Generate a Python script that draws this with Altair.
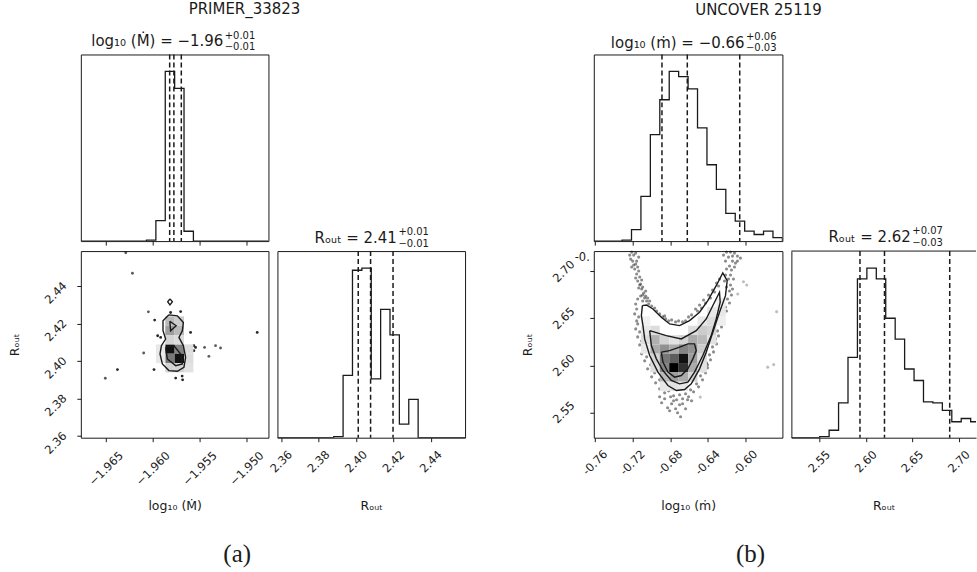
import altair as alt
import pandas as pd

FONT = "DejaVu Sans"
INK = "#1a1a1a"
TXT = "#1a1a1a"

# ---------------- panel (a): PRIMER_33823 ----------------
A_NAME = "PRIMER_33823"
A_MDOT_RANGE = [-1.9677, -1.9477]
A_ROUT_RANGE = [2.3591, 2.4586]
A_ROUT_HIST_RANGE = [2.3579, 2.4582]
A_MDOT_TICKS = [-1.965, -1.960, -1.955, -1.950]
A_ROUT_TICKS = [2.36, 2.38, 2.40, 2.42, 2.44]
A_MDOT_COUNTS = [0, 0, 0, 0, 0, 0, 0, 0.6, 12.1, 100, 90, 5.8, 0, 0, 0, 0, 0, 0, 0, 0]
A_ROUT_COUNTS = [0, 0, 0, 0, 0, 0, 0.6, 36.7, 98.7, 100, 34.7, 75.6, 60.6, 8.0, 22.6, 0, 0, 0, 0, 0]
A_MDOT_QUANTILES = [-1.95823, -1.95778, -1.95699]
A_ROUT_QUANTILES = [2.4011, 2.4077, 2.4197]

A_C0_X = [-1.95831, -1.95741, -1.95677, -1.95688, -1.95724, -1.95677, -1.95653, -1.95671, -1.95741,
          -1.95831, -1.95901, -1.95926, -1.95911, -1.95866, -1.95894, -1.95894, -1.95831]
A_C0_Y = [2.42461, 2.42408, 2.42052, 2.41611, 2.41256, 2.40815, 2.40193, 2.39663, 2.39450,
          2.39487, 2.39843, 2.40374, 2.40815, 2.41171, 2.41611, 2.42143, 2.42461]
A_C1_X = [-1.95821, -1.95754, -1.95813, -1.95821]
A_C1_Y = [2.42116, 2.41877, 2.41611, 2.42116]
A_C2_X = [-1.95866, -1.95777, -1.95706, -1.95688, -1.95759, -1.95848, -1.95866]
A_C2_Y = [2.40725, 2.40815, 2.40374, 2.39843, 2.39753, 2.40109, 2.40725]
A_C3_X = [-1.95820, -1.95794, -1.95820, -1.95844, -1.95820]
A_C3_Y = [2.43311, 2.43152, 2.42992, 2.43152, 2.43311]

A_PTS_X = [-1.96380, -1.95990, -1.94890, -1.95759, -1.95685, -1.95690, -1.95813, -1.95706, -1.95983,
           -1.95951, -1.95919, -1.95600, -1.95565, -1.95547, -1.95565, -1.95624, -1.95653,
           -1.96291, -1.96220, -1.96050, -1.96100, -1.95451, -1.95405, -1.95334, -1.95281, -1.96509]
A_PTS_Y = [2.39540, 2.39540, 2.41521, 2.39089, 2.38993, 2.39195, 2.42583, 2.42636, 2.42180,
           2.41346, 2.41256, 2.41521, 2.40815, 2.40725, 2.40549, 2.39700, 2.40284,
           2.45770, 2.44676, 2.42620, 2.40427, 2.40725, 2.40247, 2.40815, 2.40693, 2.39078]
A_PTS_KIND = ["dark"] * 17 + ["faint"] * 9

A_CELL_I = [9, 10, 9, 10, 9, 9, 10, 10, 9, 10, 11, 8, 8, 11, 11, 9, 10]
A_CELL_J = [10, 10, 11, 11, 7, 8, 7, 8, 12, 12, 12, 10, 11, 10, 11, 9, 9]
A_CELL_LEVEL = [0.95, 0.45, 0.5, 0.95, 0.25, 0.35, 0.18, 0.25, 0.15, 0.15, 0.1, 0.08, 0.08, 0.12, 0.12, 0.15, 0.12]

# ---------------- panel (b): UNCOVER 25119 ----------------
B_NAME = "UNCOVER 25119"
B_MDOT_RANGE = [-0.7614, -0.5603]
B_ROUT_RANGE = [2.5231, 2.7216]
B_ROUT_HIST_RANGE = [2.5200, 2.7225]
B_ROUT_HIST_VISIBLE = [2.5200, 2.7181]
B_MDOT_TICKS = [-0.76, -0.72, -0.68, -0.64, -0.60]
B_ROUT_TICKS = [2.55, 2.60, 2.65, 2.70]
B_MDOT_COUNTS = [0, 0, 0, 0.6, 6.8, 26.4, 62.8, 83.3, 100, 97, 89.7, 66.7, 45, 30.5, 16.3, 11.8, 5.9, 3.9, 5.9, 2]
B_ROUT_COUNTS = [0, 0, 0, 0.6, 4.4, 20.5, 47.4, 93.6, 100, 93.6, 70.4, 58.1, 40.5, 33.7, 21.1, 20.5, 16.1, 9.4, 11.3, 9.4]
B_MDOT_QUANTILES = [-0.6887, -0.6617, -0.6058]
B_ROUT_QUANTILES = [2.5936, 2.6199, 2.6899]

B_C0_X = [-0.70959, -0.71066, -0.70895, -0.70714, -0.70183, -0.69300, -0.68236, -0.67342, -0.66459,
          -0.65746, -0.64863, -0.64151, -0.63449, -0.62736, -0.62097, -0.61917, -0.62385, -0.63087,
          -0.63981, -0.64863, -0.65927, -0.66991, -0.68055, -0.68938, -0.69831, -0.70534, -0.70959]
B_C0_Y = [2.66353, 2.65292, 2.64230, 2.62818, 2.61045, 2.59283, 2.57861, 2.57330, 2.57436,
          2.58041, 2.59633, 2.61406, 2.63529, 2.65653, 2.67415, 2.69007, 2.69825, 2.68476,
          2.66884, 2.65653, 2.64761, 2.64230, 2.64411, 2.65122, 2.66003, 2.66428, 2.66353]
B_C1_X = [-0.70183, -0.68406, -0.66810, -0.65215, -0.64151, -0.63268, -0.62736, -0.62662, -0.63087,
          -0.63619, -0.64513, -0.65395, -0.66108, -0.66991, -0.67874, -0.68768, -0.69470, -0.70002, -0.70183]
B_C1_Y = [2.63699, 2.63168, 2.62818, 2.63699, 2.64941, 2.66714, 2.67776, 2.66714, 2.64941,
          2.63168, 2.61045, 2.59283, 2.58222, 2.58041, 2.58391, 2.59453, 2.60695, 2.62107, 2.63699]
B_C2_X = [-0.68938, -0.68055, -0.66991, -0.66108, -0.65396, -0.65215, -0.65576, -0.66108, -0.66810,
          -0.67523, -0.68236, -0.68768, -0.68938]
B_C2_Y = [2.61406, 2.61576, 2.61937, 2.62287, 2.62287, 2.61576, 2.60695, 2.59633, 2.58922,
          2.58752, 2.59283, 2.60345, 2.61406]

# samples drawn outside the outermost contour (the dense arms of the banana)
B_CLOUD_X = [
    -0.72097, -0.71885, -0.71672, -0.71991, -0.71672, -0.71778, -0.71459, -0.71566, -0.71246, -0.71459,
    -0.71140, -0.71353, -0.71034, -0.70821, -0.71140, -0.70715, -0.70502, -0.70927, -0.70289, -0.69970,
    -0.69651, -0.69438, -0.69119, -0.68800, -0.68481, -0.68161, -0.67842, -0.67417, -0.67098,
    -0.71459, -0.71566, -0.71353, -0.71459, -0.71246, -0.71034, -0.70821, -0.70502, -0.70076, -0.69651,
    -0.69119, -0.68693, -0.68161, -0.67630, -0.66991, -0.66353, -0.65821, -0.65183, -0.64757, -0.64438,
    -0.68587, -0.67842, -0.68268, -0.67417, -0.66140, -0.66672, -0.67204,
    -0.61566, -0.61140, -0.60821, -0.61779, -0.61353, -0.61034, -0.61672, -0.61991, -0.61459, -0.62097,
    -0.61779, -0.61566, -0.61672, -0.61885, -0.62097, -0.62417, -0.62630, -0.62949, -0.63161, -0.63480,
    -0.63799, -0.64119, -0.64544,
    -0.66672, -0.66034, -0.65289, -0.64864, -0.64438, -0.63906, -0.63480, -0.63055, -0.62736,
    -0.72310, -0.72204, -0.71885, -0.72098, -0.71566, -0.71353, -0.71672, -0.71034, -0.71247, -0.70927,
    -0.70608, -0.70927, -0.70608, -0.70396, -0.70183, -0.71353,
    -0.71672, -0.71778, -0.71566, -0.71672, -0.71459, -0.71247, -0.71034, -0.70715, -0.70396, -0.69970,
    -0.69544, -0.69119, -0.68587, -0.67949, -0.67310, -0.66672, -0.66034, -0.65502, -0.64970, -0.64545,
    -0.64225, -0.64013,
    -0.68906, -0.68055, -0.67630, -0.66991, -0.66353, -0.65715, -0.66885, -0.69119,
    -0.62311, -0.61992, -0.61353, -0.60821, -0.60502, -0.62098, -0.61140, -0.61566, -0.61247, -0.62204,
    -0.61353, -0.61992, -0.61460, -0.61672, -0.61992, -0.62311, -0.62523, -0.62843, -0.63055, -0.63374,
    -0.63694, -0.64013,
    -0.66353, -0.65715, -0.65077, -0.64651, -0.64225, -0.63694, -0.63268, -0.62843, -0.68587]
B_CLOUD_Y = [
    2.72054, 2.71735, 2.71948, 2.71098, 2.70780, 2.70249, 2.70461, 2.69718, 2.69400, 2.68975,
    2.68657, 2.68232, 2.68126, 2.67701, 2.67383, 2.67171, 2.66852, 2.66852, 2.66534, 2.66321,
    2.66109, 2.65790, 2.65472, 2.65153, 2.64941, 2.64729, 2.64835, 2.64623, 2.64729,
    2.67064, 2.66003, 2.65153, 2.64410, 2.63561, 2.62606, 2.61756, 2.60907, 2.60058, 2.59208,
    2.58465, 2.57722, 2.57298, 2.56767, 2.56873, 2.56979, 2.57404, 2.58041, 2.58890, 2.59845,
    2.56448, 2.55917, 2.55493, 2.55386, 2.56342, 2.55917, 2.54962,
    2.72054, 2.71948, 2.71629, 2.71523, 2.71098, 2.70886, 2.70568, 2.70249, 2.70143, 2.69612,
    2.69188, 2.68551, 2.67914, 2.67064, 2.66215, 2.65366, 2.64516, 2.63667, 2.62818, 2.61969,
    2.61119, 2.60270, 2.59421,
    2.64623, 2.65153, 2.66003, 2.66427, 2.66958, 2.67489, 2.68020, 2.68763, 2.69188,
    2.71735, 2.71311, 2.70674, 2.70461, 2.71098, 2.70037, 2.69294, 2.69081, 2.68551, 2.68338,
    2.67914, 2.67489, 2.67383, 2.67171, 2.66852, 2.71523,
    2.66534, 2.65472, 2.64729, 2.63880, 2.63030, 2.62181, 2.61226, 2.60482, 2.59633, 2.58784,
    2.58147, 2.57510, 2.57085, 2.56661, 2.56342, 2.56448, 2.56661, 2.57191, 2.57722, 2.58465,
    2.59208, 2.60058,
    2.56024, 2.55174, 2.56236, 2.55811, 2.55387, 2.56236, 2.54537, 2.56661,
    2.71735, 2.72054, 2.71629, 2.71098, 2.71417, 2.71098, 2.70461, 2.69612, 2.69188, 2.68975,
    2.68126, 2.68338, 2.67489, 2.66640, 2.65790, 2.64941, 2.64092, 2.63136, 2.62287, 2.61438,
    2.60589, 2.59739,
    2.64729, 2.65366, 2.65790, 2.66109, 2.66640, 2.67171, 2.67807, 2.68444, 2.65260]
# isolated samples far from the bulk
B_OUT_X = [-0.60790, -0.60183, -0.59832, -0.56641, -0.57598, -0.56960, -0.64789]
B_OUT_Y = [2.67595, 2.68901, 2.68551, 2.65716, 2.59814, 2.60090, 2.56629]

B_CELL_I = [13, 12, 13, 5, 11, 12, 13, 5, 6, 10, 11, 12, 5, 6, 7, 8, 9, 10, 11, 12,
            5, 6, 7, 8, 9, 10, 11, 6, 7, 8, 9, 10, 11, 6, 7, 8, 9, 10, 11, 7, 8, 9, 10, 7, 8, 9]
B_CELL_J = [5, 6, 6, 7, 7, 7, 7, 8, 8, 8, 8, 8, 9, 9, 9, 9, 9, 9, 9, 9,
            10, 10, 10, 10, 10, 10, 10, 11, 11, 11, 11, 11, 11, 12, 12, 12, 12, 12, 12, 13, 13, 13, 13, 14, 14, 14]
B_CELL_LEVEL = [0.06, 0.08, 0.08, 0.05, 0.08, 0.12, 0.06, 0.08, 0.12, 0.12, 0.18, 0.15,
                0.12, 0.28, 0.15, 0.1, 0.15, 0.3, 0.25, 0.1,
                0.08, 0.3, 0.4, 0.3, 0.45, 0.4, 0.18, 0.15, 0.5, 0.6, 0.95, 0.35, 0.12,
                0.12, 0.45, 1.0, 0.8, 0.3, 0.1, 0.25, 0.35, 0.3, 0.15, 0.08, 0.1, 0.08]

POINT_KINDS = ["dark", "faint", "cloud", "outlier"]


# ---------------- helpers ----------------
def step_frame(bin_range, counts):
    lo, hi = bin_range
    n = len(counts)
    edges = [lo + (hi - lo) * k / n for k in range(n + 1)]
    xs = [edges[0]] + edges[:n] + [edges[n], edges[n]]
    ys = [0] + list(counts) + [counts[-1], 0]
    return pd.DataFrame({"v": xs, "c": ys, "o": list(range(len(xs)))})


def cell_frame(xr, yr, I, J, L, n=20):
    dx = (xr[1] - xr[0]) / n
    dy = (yr[1] - yr[0]) / n
    return pd.DataFrame({
        "x": [xr[0] + i * dx for i in I],
        "x2": [xr[0] + (i + 1) * dx for i in I],
        "y": [yr[1] - (j + 1) * dy for j in J],
        "y2": [yr[1] - j * dy for j in J],
        "level": L,
    })


def contour_frame(polys):
    rows = []
    for cid, (xs, ys) in enumerate(polys):
        for k, (x, y) in enumerate(zip(xs, ys)):
            rows.append({"cid": cid, "k": k, "x": x, "y": y})
    return pd.DataFrame(rows)


def text(s, x, y, size=15, align="center", font=FONT):
    return alt.Chart(pd.DataFrame({"t": [s]})).mark_text(
        align=align, baseline="alphabetic", font=font, fontSize=size, color=TXT
    ).encode(text="t:N", x=alt.value(x), y=alt.value(y))


def math_title(main, sup, sub, xr, yb, ysup, ysub):
    return [text(main, xr, yb, 15, "right"),
            text(sup, xr + 1.5, ysup, 10, "left"),
            text(sub, xr + 1.5, ysub, 10, "left")]


def tick_axis(values, pad, title=None, title_y=None, fmt=None, expr=None, **kw):
    args = dict(values=values, labelAngle=-45, labelAlign="center", labelBaseline="middle",
                labelPadding=pad, tickSize=4, labelFontSize=11.5, labelColor=TXT,
                titleFontSize=12.5, titleFontWeight="normal", titleColor=TXT)
    args["title"] = title
    if title_y is not None:
        args["titleY"] = title_y
        args["titleBaseline"] = "alphabetic"
    if fmt is not None:
        args["format"] = fmt
    if expr is not None:
        args["labelExpr"] = expr
    args.update(kw)
    return alt.Axis(**args)


def hist_panel(bin_range, counts, domain, quantiles, axis, width, height, extras, yaxis=None, view=None):
    xs = alt.Scale(domain=domain, nice=False, zero=False)
    ys = alt.Scale(domain=[0, 110], nice=False, zero=True)
    line = alt.Chart(step_frame(bin_range, counts)).mark_line(
        interpolate="step-after", color=INK, strokeWidth=1.3, clip=True
    ).encode(
        x=alt.X("v:Q", scale=xs, axis=axis),
        y=alt.Y("c:Q", scale=ys, axis=yaxis),
        order="o:Q",
    )
    rules = alt.Chart(pd.DataFrame({"v": quantiles})).mark_rule(
        color=INK, strokeWidth=1.5, strokeDash=[5, 3]
    ).encode(x=alt.X("v:Q", scale=xs, axis=axis))
    ch = alt.layer(line, rules, *extras).properties(width=width, height=height)
    if view is not None:
        ch = ch.properties(view=view)
    return ch


def density_panel(xd, yd, cells, contours, points, xaxis, yaxis, width, height, extras, psize=8):
    xs = alt.Scale(domain=xd, nice=False, zero=False)
    ys = alt.Scale(domain=yd, nice=False, zero=False)
    pts = alt.Chart(points).mark_circle(size=psize, color="#000000").encode(
        x=alt.X("x:Q", scale=xs, axis=xaxis),
        y=alt.Y("y:Q", scale=ys, axis=yaxis),
        opacity=alt.Opacity("kind:N", scale=alt.Scale(domain=POINT_KINDS, range=[0.85, 0.25, 0.42, 0.95]),
                            legend=None),
    )
    rect = alt.Chart(cells).mark_rect().encode(
        x=alt.X("x:Q", scale=xs, axis=xaxis), x2="x2:Q",
        y=alt.Y("y:Q", scale=ys, axis=yaxis), y2="y2:Q",
        color=alt.Color("level:Q", scale=alt.Scale(domain=[0, 1], range=["#ffffff", "#000000"]), legend=None),
    )
    lines = alt.Chart(contours).mark_line(color=INK, strokeWidth=1.4).encode(
        x=alt.X("x:Q", scale=xs, axis=xaxis),
        y=alt.Y("y:Q", scale=ys, axis=yaxis),
        detail="cid:N", order="k:Q",
    )
    return alt.layer(pts, rect, lines, *extras).properties(width=width, height=height)


def blank(width, height):
    return alt.Chart(pd.DataFrame({"a": [0]})).mark_rect(opacity=0).encode(
        x=alt.value(0), y=alt.value(0)
    ).properties(width=width, height=height, view=alt.ViewBackground(stroke="transparent"))


ROUT_TITLE = "Rₒᵤₜ"

# ---------------- panel (a) charts ----------------
a_top_axis = alt.Axis(values=A_MDOT_TICKS, labels=False, title=None, tickSize=4)
topA = hist_panel(A_MDOT_RANGE, A_MDOT_COUNTS, A_MDOT_RANGE, A_MDOT_QUANTILES, a_top_axis, 188, 187,
                  [text(A_NAME, 164, -40.5, 15)] +
                  math_title("log₁₀ (Ṁ) = −1.96", "+0.01", "−0.01", 142.7, -8.7, -16, -4.5))

a_x_axis = tick_axis(A_MDOT_TICKS, 27, "log₁₀ (Ṁ)", 72, fmt=".3f")
a_y_axis = tick_axis(A_ROUT_TICKS, 21, ROUT_TITLE, fmt=".2f", labelOffset=7,
                     titleX=-66, titleY=93.5, titleAngle=-90, titleAlign="center", titleBaseline="middle")
anchor = alt.Chart(pd.DataFrame({"a": [0]})).mark_rect(opacity=0).encode(
    x=alt.value(-80), x2=alt.value(897), y=alt.value(-250), y2=alt.value(322))
scatA = density_panel(
    A_MDOT_RANGE, A_ROUT_RANGE,
    cell_frame(A_MDOT_RANGE, A_ROUT_RANGE, A_CELL_I, A_CELL_J, A_CELL_LEVEL),
    contour_frame([(A_C0_X, A_C0_Y), (A_C1_X, A_C1_Y), (A_C2_X, A_C2_Y), (A_C3_X, A_C3_Y)]),
    pd.DataFrame({"x": A_PTS_X, "y": A_PTS_Y, "kind": A_PTS_KIND}),
    a_x_axis, a_y_axis, 188, 187,
    [anchor, text("(a)", 156.7, 312, 25, "center", "Liberation Serif")])

a_r_axis = tick_axis(A_ROUT_TICKS, 20, ROUT_TITLE, 72, fmt=".2f")
histRA = hist_panel(A_ROUT_HIST_RANGE, A_ROUT_COUNTS, A_ROUT_HIST_RANGE, A_ROUT_QUANTILES, a_r_axis, 188, 187,
                    math_title("Rₒᵤₜ = 2.41", "+0.01", "−0.01", 119.7, -8.3, -16.5, -4.5))

# ---------------- panel (b) charts ----------------
b_top_axis = alt.Axis(values=B_MDOT_TICKS, labels=False, title=None, tickSize=4)
topB = hist_panel(B_MDOT_RANGE, B_MDOT_COUNTS, B_MDOT_RANGE, B_MDOT_QUANTILES, b_top_axis, 189, 187,
                  [text(B_NAME, 165, -39.7, 15)] +
                  math_title("log₁₀ (ṁ) = −0.66", "+0.06", "−0.03", 151, -6.3, -15, -3))

b_x_axis = tick_axis(B_MDOT_TICKS, 21, "log₁₀ (ṁ)", 72, expr="'-' + format(abs(datum.value), '.2f')")
b_y_axis = tick_axis(B_ROUT_TICKS, 26, ROUT_TITLE, fmt=".2f",
                     titleX=-66, titleY=93.5, titleAngle=-90, titleAlign="center", titleBaseline="middle")
b_points = pd.DataFrame({
    "x": B_CLOUD_X + B_OUT_X,
    "y": B_CLOUD_Y + B_OUT_Y,
    "kind": ["cloud"] * len(B_CLOUD_X) + ["outlier"] * len(B_OUT_X),
})
scatB = density_panel(
    B_MDOT_RANGE, B_ROUT_RANGE,
    cell_frame(B_MDOT_RANGE, B_ROUT_RANGE, B_CELL_I, B_CELL_J, B_CELL_LEVEL),
    contour_frame([(B_C0_X, B_C0_Y), (B_C1_X, B_C1_Y), (B_C2_X, B_C2_Y)]),
    b_points,
    b_x_axis, b_y_axis, 189, 187,
    [text("(b)", 157, 312, 25, "center", "Liberation Serif"),
     text("-0.", -4, 10, 11.5, "right")], psize=10)

b_r_axis = tick_axis(B_ROUT_TICKS, 20, ROUT_TITLE, 72, fmt=".2f", domain=True, domainColor=INK, domainWidth=1)
b_r_yaxis = alt.Axis(domain=True, domainColor=INK, domainWidth=1, ticks=False, labels=False, title=None, grid=False)
top_border = alt.Chart(pd.DataFrame({"a": [0]})).mark_rule(color=INK, strokeWidth=1).encode(
    x=alt.value(0), x2=alt.value(185), y=alt.value(0))
histRB = hist_panel(B_ROUT_HIST_RANGE, B_ROUT_COUNTS, B_ROUT_HIST_VISIBLE, B_ROUT_QUANTILES, b_r_axis, 185, 187,
                    [top_border] + math_title("Rₒᵤₜ = 2.62", "+0.07", "−0.03", 119.7, -8.7, -17, -5.5),
                    yaxis=b_r_yaxis, view=alt.ViewBackground(stroke="transparent"))

# ---------------- layout: one flush grid, 5 columns ----------------
chart = (
    alt.concat(
        topA, blank(188, 187), blank(111, 187), topB, blank(185, 187),
        scatA, histRA, blank(111, 187), scatB, histRB,
        columns=5, spacing={"row": 10, "column": 9}, bounds="flush", align="each",
    )
    .properties(padding=0, background="white")
    .configure(font=FONT)
    .configure_view(stroke=INK, strokeWidth=1)
    .configure_axis(grid=False, domain=False, tickColor=INK, tickWidth=1, labelFont=FONT, titleFont=FONT,
                    labelOverlap=False, labelFlush=False)
)

chart.save("out.html", embed_options={"renderer": "svg", "actions": False})
